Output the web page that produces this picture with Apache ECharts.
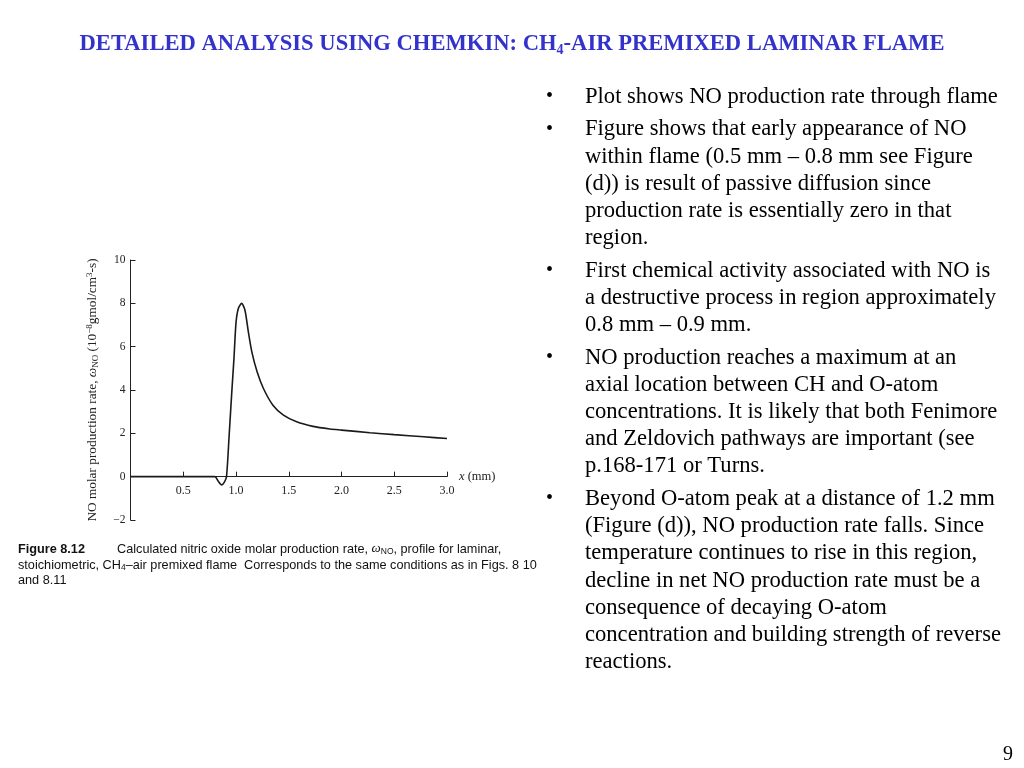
<!DOCTYPE html>
<html><head><meta charset="utf-8">
<script src="https://cdn.jsdelivr.net/npm/echarts@6/dist/echarts.min.js"></script>
<style>html,body{margin:0;padding:0;background:#fff}#c{width:1024px;height:768px}</style>
</head><body><div id="c"></div>
<script>
// Data (x in mm, rate in 1e-8 gmol/cm^3-s)
const xPos = [0, 0.80, 0.83, 0.865, 0.89, 0.91, 0.935, 0.96, 0.98, 1.0, 1.022, 1.054, 1.085, 1.117, 1.15, 1.2, 1.26, 1.35, 1.45, 1.575, 1.73, 1.89, 2.0, 2.27, 2.5, 2.78, 3.0];
const rate = [0, 0, -0.2, -0.38, -0.25, 0, 1.9, 3.9, 5.4, 7.1, 7.76, 8.0, 7.68, 6.68, 5.76, 4.84, 4.07, 3.3, 2.84, 2.53, 2.32, 2.2, 2.15, 2.03, 1.94, 1.84, 1.76];
const xTicks = ['0.5', '1.0', '1.5', '2.0', '2.5', '3.0'];
const yTicks = ['−2', '0', '2', '4', '6', '8', '10'];

const bullets = [
  ['Plot shows NO production rate through flame'],
  ['Figure shows that early appearance of NO', 'within flame (0.5 mm – 0.8 mm see Figure', '(d)) is result of passive diffusion since', 'production rate is essentially zero in that', 'region.'],
  ['First chemical activity associated with NO is', 'a destructive process in region approximately', '0.8 mm – 0.9 mm.'],
  ['NO production reaches a maximum at an', 'axial location between CH and O-atom', 'concentrations. It is likely that both Fenimore', 'and Zeldovich pathways are important (see', 'p.168-171 or Turns.'],
  ['Beyond O-atom peak at a distance of 1.2 mm', '(Figure (d)), NO production rate falls. Since', 'temperature continues to rise in this region,', 'decline in net NO production rate must be a', 'consequence of decaying O-atom', 'concentration and building strength of reverse', 'reactions.']
];

const chart = echarts.init(document.getElementById('c'));
const serif = '"Liberation Serif","Times New Roman",serif';
const sans = '"Liberation Sans","DejaVu Sans",sans-serif';

const graphics = [];
// Title
graphics.push({
  type: 'text', left: 'center', top: 33,
  style: {
    text: '{t|DETAILED ANALYSIS USING CHEMKIN: CH}{s|4}{t|-AIR PREMIXED LAMINAR FLAME}',
    rich: {
      t: { fontFamily: serif, fontWeight: 'bold', fontSize: 22.6, fill: '#3333cc' },
      s: { fontFamily: serif, fontWeight: 'bold', fontSize: 14, fill: '#3333cc', padding: [11, 0, 0, 0] }
    }
  }
});
// Bullets
let y = 97;
bullets.forEach((lines) => {
  graphics.push({ type: 'text', x: 546, y: y, style: { text: '•', fontFamily: serif, fontSize: 20, fill: '#000', verticalAlign: 'middle' } });
  lines.forEach((ln, li) => {
    graphics.push({ type: 'text', x: 585, y: y, style: { text: ln, fontFamily: serif, fontSize: 22.6, fill: '#000', verticalAlign: 'middle' } });
    if (li < lines.length - 1) y += 27.2;
  });
  y += 32.5;
});
// Caption
graphics.push({ type: 'text', x: 18, y: 549, style: { text: 'Figure 8.12', fontFamily: sans, fontWeight: 'bold', fontSize: 12.7, fill: '#111', verticalAlign: 'middle' } });
graphics.push({ type: 'text', x: 117, y: 549, style: {
  text: '{a|Calculated nitric oxide molar production rate, }{i|ω}{b|NO}{a|, profile for laminar,}',
  verticalAlign: 'middle',
  rich: { a: { fontFamily: sans, fontSize: 12.7, fill: '#111' }, i: { fontFamily: serif, fontStyle: 'italic', fontSize: 13, fill: '#111' }, b: { fontFamily: sans, fontSize: 8.5, fill: '#111', padding: [5, 0, 0, 0] } }
} });
graphics.push({ type: 'text', x: 18, y: 565, style: {
  text: '{a|stoichiometric, CH}{b|4}{a|–air premixed flame  Corresponds to the same conditions as in Figs. 8 10}',
  verticalAlign: 'middle',
  rich: { a: { fontFamily: sans, fontSize: 12.7, fill: '#111' }, b: { fontFamily: sans, fontSize: 8.5, fill: '#111', padding: [5, 0, 0, 0] } }
} });
graphics.push({ type: 'text', x: 18, y: 580, style: { text: 'and 8.11', fontFamily: sans, fontSize: 12.7, fill: '#111', verticalAlign: 'middle' } });
// Page number
graphics.push({ type: 'text', x: 1003, y: 755, style: { text: '9', fontFamily: serif, fontSize: 20, fill: '#000', verticalAlign: 'middle' } });

chart.setOption({
  animation: false,
  backgroundColor: '#fff',
  grid: { left: 130.5, right: 577, top: 260, bottom: 248, containLabel: false },
  xAxis: {
    type: 'value', min: 0, max: 3, interval: 0.5,
    offset: -43.33,
    axisLine: { show: true, onZero: false, lineStyle: { color: '#222', width: 1 } },
    axisTick: { show: true, inside: true, length: 5, lineStyle: { color: '#222' } },
    axisLabel: {
      color: '#222', fontFamily: serif, fontSize: 12, margin: 8,
      formatter: function (v) { const i = Math.round(v / 0.5) - 1; return i >= 0 ? xTicks[i] : ''; }
    },
    splitLine: { show: false },
    name: '{i|x} (mm)', nameLocation: 'end', nameGap: 12,
    nameTextStyle: { fontFamily: serif, fontSize: 12.5, color: '#222', rich: { i: { fontFamily: serif, fontStyle: 'italic', fontSize: 12.5, color: '#222' } } }
  },
  yAxis: {
    type: 'value', min: -2, max: 10, interval: 2,
    axisLine: { show: true, lineStyle: { color: '#222', width: 1 } },
    axisTick: { show: true, inside: true, length: 5, lineStyle: { color: '#222' } },
    axisLabel: {
      color: '#222', fontFamily: serif, fontSize: 11.5, margin: 5,
      formatter: function (v) { return yTicks[Math.round((v + 2) / 2)]; }
    },
    splitLine: { show: false },
    name: '{a|NO molar production rate, }{i|ω}{b|NO}{a| (10}{p|−8}{a|gmol/cm}{p|3}{a|-s)}',
    nameLocation: 'middle', nameRotate: 90, nameGap: 30,
    nameTextStyle: {
      fontFamily: serif, fontSize: 13.3, color: '#222',
      rich: {
        a: { fontFamily: serif, fontSize: 13.3, color: '#222' },
        i: { fontFamily: serif, fontStyle: 'italic', fontSize: 13.3, color: '#222' },
        b: { fontFamily: serif, fontSize: 9, color: '#222', padding: [6, 0, 0, 0] },
        p: { fontFamily: serif, fontSize: 9, color: '#222', padding: [0, 0, 6, 0] }
      }
    }
  },
  series: [{
    type: 'line', data: xPos.map((x, i) => [x, rate[i]]),
    smooth: 0.25, showSymbol: false, symbol: 'none',
    lineStyle: { color: '#1a1a1a', width: 1.6 }
  }],
  graphic: graphics
});
</script></body></html>
